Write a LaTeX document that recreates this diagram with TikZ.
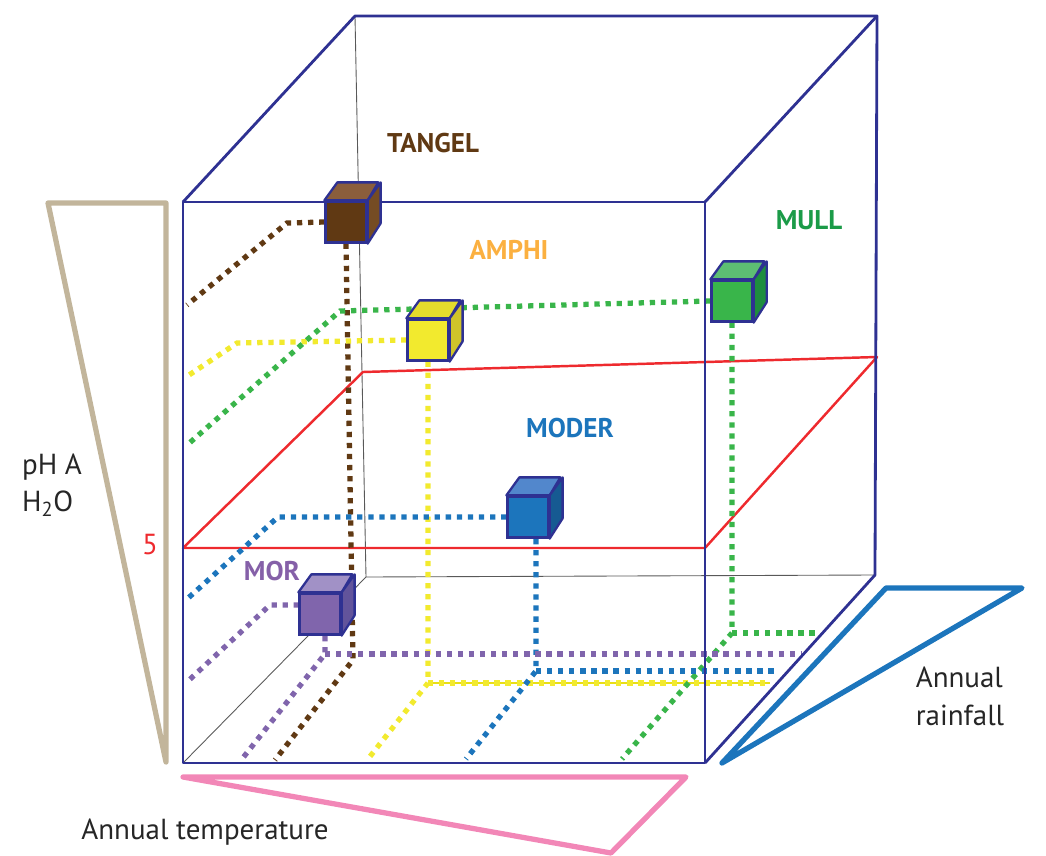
\documentclass[tikz,border=0pt]{standalone}
\usepackage{fontspec}
\setmainfont{PT Sans}
\usetikzlibrary{positioning,backgrounds}

\definecolor{boxblue}{HTML}{2E3192}
\definecolor{planered}{HTML}{EE2A2E}
\definecolor{phtan}{HTML}{C2B59B}
\definecolor{temppink}{HTML}{F287B7}
\definecolor{rainblue}{HTML}{1C75BC}
\definecolor{tangelfront}{HTML}{603913}
\definecolor{tangeltop}{HTML}{8B5E3C}
\definecolor{tangelside}{HTML}{754C24}
\definecolor{amphifront}{HTML}{F2EA2E}
\definecolor{amphitop}{HTML}{E4DC2C}
\definecolor{amphiside}{HTML}{CFC42A}
\definecolor{amphitext}{HTML}{FBB040}
\definecolor{mullfront}{HTML}{39B54A}
\definecolor{mulltop}{HTML}{5DBE73}
\definecolor{mullside}{HTML}{1E8E3E}
\definecolor{mulltext}{HTML}{1B9B48}
\definecolor{moderfront}{HTML}{1C75BC}
\definecolor{modertop}{HTML}{5287CC}
\definecolor{moderside}{HTML}{165A92}
\definecolor{morfront}{HTML}{8065AC}
\definecolor{mortop}{HTML}{A191C6}
\definecolor{morside}{HTML}{62549B}
\definecolor{mortext}{HTML}{8560A8}

\tikzset{
	soilcube/.style={
		rectangle,
		draw=boxblue,
		line width=1.3pt,
		minimum size=0.82cm,
		inner sep=0pt,
	},
	cubeedge/.style={draw=boxblue, line width=1.3pt, line join=round},
	boxline/.style={draw=boxblue, line width=1.6pt, line join=round},
	backline/.style={draw=black!65, line width=0.5pt},
	redplane/.style={draw=planered, line width=1.4pt, line join=round},
	soilpath/.style={line width=3pt, dash pattern=on 3pt off 3.3pt},
	scaletri/.style={line width=3pt, line join=round},
	humus/.style={font=\bfseries\fontsize{15.4}{17}\selectfont},
	scalelabel/.style={font=\fontsize{16.5}{21.5}\selectfont, text=black!85},
}

% top and side faces of a cube node
\newcommand{\cubefaces}[3]{%
	\draw[cubeedge, fill=#2] (#1.north west) -- ++(13,-18) -- ++(41,0) -- (#1.north east) -- cycle;
	\draw[cubeedge, fill=#3] (#1.north east) -- ++(13,-18) -- ++(0,41) -- (#1.south east) -- cycle;
}

\begin{document}
\begin{tikzpicture}[x=0.02cm, y=-0.02cm]
	\useasboundingbox (0,0) rectangle (1046,856);
	
	% corners of the box
	\coordinate (FTL) at (183,202);
	\coordinate (FTR) at (705,202);
	\coordinate (FBR) at (705,763);
	\coordinate (FBL) at (183,763);
	\coordinate (BTL) at (355,16);
	\coordinate (BTR) at (877,16);
	\coordinate (BBR) at (875,575);
	\coordinate (BBL) at (366,577);
	
	% pH 5 plane
	\coordinate (P1) at (183,548);
	\coordinate (P2) at (705,548);
	\coordinate (P3) at (877,357);
	\coordinate (P4) at (363,372);
	
	\draw[boxline] (FTL) -- (FTR) -- (FBR) -- (FBL) -- cycle;
	\draw[boxline] (FTL) -- (BTL) -- (BTR) -- (BBR) -- (FBR);
	\draw[boxline] (FTR) -- (BTR);
	
	\node[soilcube, fill=tangelfront] (TANGEL) at (346,222) {};
	\cubefaces{TANGEL}{tangeltop}{tangelside}
	
	\node[soilcube, fill=amphifront] (AMPHI) at (428,340) {};
	\cubefaces{AMPHI}{amphitop}{amphiside}
	
	\node[soilcube, fill=mullfront] (MULL) at (732,301) {};
	\cubefaces{MULL}{mulltop}{mullside}
	
	\node[soilcube, fill=moderfront] (MODER) at (528,517) {};
	\cubefaces{MODER}{modertop}{moderside}
	
	\node[soilcube, fill=morfront] (MOR) at (320,614) {};
	\cubefaces{MOR}{mortop}{morside}
	
	\begin{pgfonlayer}{background}
		\draw[backline] (BTL) -- (BBL) -- (BBR);
		\draw[backline] (BBL) -- (FBL);
		\draw[redplane] (P1) -- (P2) -- (P3) -- (P4) -- cycle;
		
		\draw[soilpath, tangelfront] (TANGEL.west) -- (287,223) -- (187,305);
		\draw[soilpath, tangelfront] (TANGEL.south) -- (353,660) -- (275,760);
		
		\draw[yellow!90!black, line width=0.6pt] (428,683) -- (770,683);
		\draw[soilpath, amphifront] (AMPHI.west) -- (237,343) -- (186,377);
		\draw[soilpath, amphifront] (AMPHI.south) -- (428,683) -- (368,759);
		\draw[soilpath, amphifront] (428,683) -- (770,683);
		
		\draw[soilpath, mullfront] (MULL.west) -- (340,311) -- (186,446);
		\draw[soilpath, mullfront] (MULL.south) -- (732,633) -- (622,759);
		\draw[soilpath, mullfront] (732,633) -- (818,633);
		
		\draw[soilpath, moderfront] (MODER.west) -- (278,517) -- (186,600);
		\draw[soilpath, moderfront] (536,539) -- (536,671) -- (466,759);
		\draw[soilpath, moderfront] (536,671) -- (779,671);
		
		\draw[soilpath, morfront] (299,605) -- (270,605) -- (187,682);
		\draw[soilpath, morfront] (325,636) -- (325,654) -- (242,759);
		\draw[soilpath, morfront] (325,654) -- (802,654);
	\end{pgfonlayer}
	
	% scales
	\draw[scaletri, phtan] (48,203) -- (166,203) -- (166,762) -- cycle;
	\draw[scaletri, temppink] (183,777) -- (686,777) -- (611,853) -- cycle;
	\draw[scaletri, rainblue] (886,588) -- (1022,588) -- (722,763) -- cycle;
	
	\node[humus, text=tangelfront] (TANGELlab) at (433,143) {TANGEL};
	\node[humus, text=amphitext] (AMPHIlab) at (509,250) {AMPHI};
	\node[humus, text=mulltext] (MULLlab) at (809,220) {MULL};
	\node[humus, text=moderfront] (MODERlab) at (570,428) {MODER};
	\node[humus, text=mortext] (MORlab) at (272,571) {MOR};
	
	\node[scalelabel, text=planered] (FIVE) at (150,545) {5};
	\node[scalelabel, align=left] (PH) at (52,485) {pH A\\H\textsubscript{2}O};
	\node[scalelabel] (TEMP) at (205,832) {Annual temperature};
	\node[scalelabel, align=left] (RAIN) at (960,696) {Annual\\rainfall};
	
\end{tikzpicture}
\end{document}
